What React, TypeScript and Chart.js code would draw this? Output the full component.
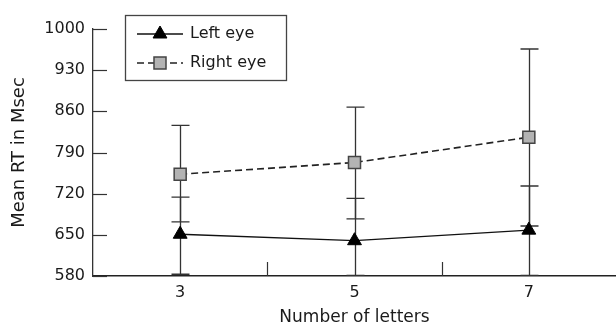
import React, { useEffect, useRef } from 'react';
import { Chart, registerables } from 'chart.js';

Chart.register(...registerables);

const letters = [3, 5, 7];
const leftEyeMean = [651, 640, 658];
const leftEyeUpper = [714, 712, 733];
const leftEyeLower = [583, 581, 581];
const rightEyeMean = [753, 773, 816];
const rightEyeUpper = [836, 867, 966];
const rightEyeLower = [672, 677, 665];
const xLabelTicks = [3, 5, 7];
const xMinorTicks = [4, 6];
const seriesNames = ['Left eye', 'Right eye'];

const FONT = "'DejaVu Sans', sans-serif";
const INK = '#1a1a1a';

function drawMarker(ctx: CanvasRenderingContext2D, style: string, x: number, y: number, r: number, fill: string, stroke: string, lw: number) {
  ctx.save();
  ctx.beginPath();
  if (style === 'triangle') {
    ctx.moveTo(x, y - r);
    ctx.lineTo(x + r * Math.sin(Math.PI * 2 / 3), y + r * 0.5);
    ctx.lineTo(x - r * Math.sin(Math.PI * 2 / 3), y + r * 0.5);
    ctx.closePath();
  } else {
    const s = r * Math.SQRT1_2;
    ctx.rect(x - s, y - s, 2 * s, 2 * s);
  }
  ctx.fillStyle = fill;
  ctx.fill();
  ctx.lineWidth = lw;
  ctx.strokeStyle = stroke;
  ctx.stroke();
  ctx.restore();
}

const decorPlugin = {
  id: 'decor',
  beforeDatasetsDraw(chart: any) {
    const ctx = chart.ctx as CanvasRenderingContext2D;
    const xs = chart.scales.x;
    const ys = chart.scales.y;
    const sets = [
      [leftEyeLower, leftEyeUpper],
      [rightEyeLower, rightEyeUpper],
    ];
    ctx.save();
    ctx.strokeStyle = '#333';
    ctx.lineWidth = 1.3;
    sets.forEach(([lo, hi]) => {
      letters.forEach((v, i) => {
        const x = Math.round(xs.getPixelForValue(v)) + 0.5;
        const y1 = ys.getPixelForValue(lo[i]);
        const y2 = ys.getPixelForValue(hi[i]);
        ctx.beginPath();
        ctx.moveTo(x, y1);
        ctx.lineTo(x, y2);
        ctx.moveTo(x - 9, y1);
        ctx.lineTo(x + 9, y1);
        ctx.moveTo(x - 9, y2);
        ctx.lineTo(x + 9, y2);
        ctx.stroke();
      });
    });
    ctx.restore();
  },
  afterDraw(chart: any) {
    const ctx = chart.ctx as CanvasRenderingContext2D;
    const xs = chart.scales.x;
    const ys = chart.scales.y;
    const area = chart.chartArea;
    ctx.save();
    ctx.strokeStyle = '#333';
    ctx.lineWidth = 1.2;
    // inward y ticks
    ys.ticks.forEach((t: any) => {
      const y = Math.round(ys.getPixelForValue(t.value)) + 0.5;
      ctx.beginPath();
      ctx.moveTo(area.left, y);
      ctx.lineTo(area.left + 14, y);
      ctx.stroke();
    });
    // inward x minor ticks
    xMinorTicks.forEach((v) => {
      const x = Math.round(xs.getPixelForValue(v)) + 0.5;
      ctx.beginPath();
      ctx.moveTo(x, area.bottom);
      ctx.lineTo(x, area.bottom - 14);
      ctx.stroke();
    });
    // legend
    const bx = 125.5, by = 15.5, bw = 161, bh = 65;
    ctx.strokeStyle = '#444';
    ctx.lineWidth = 1.3;
    ctx.strokeRect(bx, by, bw, bh);
    const rows = [34, 63];
    chart.data.datasets.forEach((ds: any, i: number) => {
      const y = rows[i];
      ctx.save();
      ctx.strokeStyle = ds.borderColor;
      ctx.lineWidth = ds.borderWidth;
      ctx.setLineDash(ds.borderDash || []);
      ctx.beginPath();
      ctx.moveTo(137, y);
      ctx.lineTo(183, y);
      ctx.stroke();
      ctx.restore();
      drawMarker(ctx, ds.pointStyle, 160, y, ds.pointRadius, ds.pointBackgroundColor, ds.pointBorderColor, ds.pointBorderWidth);
      ctx.fillStyle = INK;
      ctx.font = `16px ${FONT}`;
      ctx.textBaseline = 'middle';
      ctx.textAlign = 'left';
      ctx.fillText(ds.label, 190, y);
    });
    ctx.restore();
  },
};

export default function App() {
  const ref = useRef<HTMLCanvasElement>(null);
  useEffect(() => {
    const chart = new Chart(ref.current as HTMLCanvasElement, {
      type: 'line',
      data: {
        datasets: [
          {
            label: seriesNames[0],
            data: letters.map((x, i) => ({ x, y: leftEyeMean[i] })),
            borderColor: '#111',
            borderWidth: 1.3,
            pointStyle: 'triangle',
            pointRadius: 8,
            pointBackgroundColor: '#000',
            pointBorderColor: '#000',
            pointBorderWidth: 1,
            tension: 0,
          },
          {
            label: seriesNames[1],
            data: letters.map((x, i) => ({ x, y: rightEyeMean[i] })),
            borderColor: '#222',
            borderWidth: 1.6,
            borderDash: [7, 4],
            pointStyle: 'rect',
            pointRadius: 8.5,
            pointBackgroundColor: '#b3b3b3',
            pointBorderColor: '#444',
            pointBorderWidth: 1.5,
            tension: 0,
          },
        ] as any,
      },
      options: {
        responsive: false,
        animation: false,
        layout: { autoPadding: false, padding: { top: 29, right: 0, left: 0, bottom: 0 } },
        plugins: { legend: { display: false }, tooltip: { enabled: false } },
        scales: {
          x: {
            type: 'linear',
            min: 2,
            max: 8,
            afterBuildTicks: (scale: any) => {
              scale.ticks = xLabelTicks.map((v) => ({ value: v }));
            },
            afterFit: (scale: any) => {
              scale.height = 52;
              scale.paddingRight = 0;
              scale.paddingLeft = 0;
            },
            grid: { display: false, drawTicks: false },
            border: { display: true, color: '#222', width: 1.5 },
            ticks: {
              color: INK,
              font: { family: FONT, size: 16 },
              padding: 7,
              maxRotation: 0,
              callback: (v: any) => String(v),
            },
            title: {
              display: true,
              text: 'Number of letters',
              color: INK,
              font: { family: FONT, size: 17 },
              padding: { top: 0, bottom: 0 },
            },
          },
          y: {
            min: 580,
            max: 1000,
            afterFit: (scale: any) => {
              scale.width = 93;
            },
            grid: { display: false, drawTicks: false },
            border: { display: true, color: '#333', width: 1.3 },
            ticks: {
              stepSize: 70,
              color: INK,
              font: { family: FONT, size: 16 },
              padding: 8,
              callback: (v: any) => String(v),
            },
            title: {
              display: true,
              text: 'Mean RT in Msec',
              color: INK,
              font: { family: FONT, size: 18 },
              padding: { top: 9, bottom: 0 },
            },
          },
        },
      } as any,
      plugins: [decorPlugin],
    });
    return () => chart.destroy();
  }, []);
  return (
    <div style={{ position: 'absolute', left: 0, top: 0, width: 616, height: 328 }}>
      <canvas ref={ref} width={616} height={328} style={{ width: 616, height: 328, display: 'block' }} />
    </div>
  );
}
